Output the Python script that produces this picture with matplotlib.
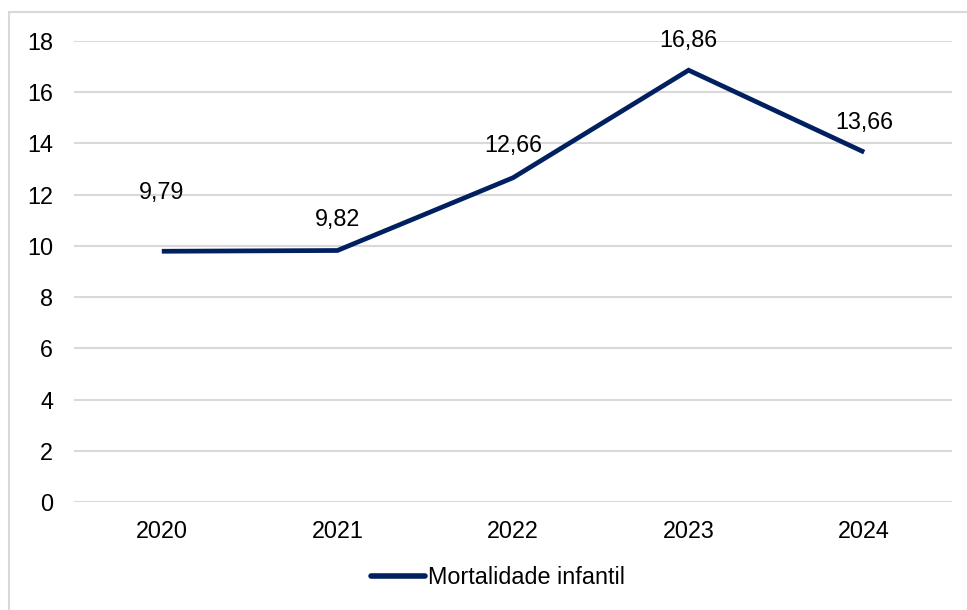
import matplotlib
matplotlib.use("Agg")
import matplotlib.pyplot as plt
from matplotlib.patches import Rectangle
from matplotlib.lines import Line2D

plt.rcParams['font.family'] = ['Liberation Sans', 'DejaVu Sans']

years = ["2020", "2021", "2022", "2023", "2024"]
values = [9.79, 9.82, 12.66, 16.86, 13.66]
value_labels = ["9,79", "9,82", "12,66", "16,86", "13,66"]
yticks = [0, 2, 4, 6, 8, 10, 12, 14, 16, 18]
series_name = "Mortalidade infantil"

W, H = 967, 610
fig = plt.figure(figsize=(W / 100, H / 100), dpi=100)
fig.patch.set_facecolor("white")

# outer border (only top/left visible in reference)
fig.patches.append(Rectangle((9 / W, -0.1), 1.2, (H - 12) / H + 0.1,
                             transform=fig.transFigure, fill=False,
                             edgecolor="#d9d9d9", linewidth=1.5))

FS = 16.8
ax = fig.add_axes([74 / W, 1 - 502 / H, (952 - 74) / W, (502 - 41) / H])
x = list(range(len(years)))
color = "#002060"
ax.plot(x, values, color=color, linewidth=3.4, solid_capstyle="butt",
        solid_joinstyle="miter")

offsets = [59, 31, 32, 30, 30]
for xi, v, lab, off in zip(x, values, value_labels, offsets):
    ax.annotate(lab, (xi, v), xytext=(0, off * 0.72), textcoords="offset points",
                ha="center", va="center", fontsize=FS, color="#000000")

ax.set_xlim(-0.5, 4.5)
ax.set_ylim(0, 18)
ax.set_yticks(yticks)
ax.set_yticklabels([str(t) for t in yticks])
ax.set_xticks(x)
ax.set_xticklabels(years)
ax.tick_params(axis="both", length=0, labelsize=FS, colors="#000000")
ax.tick_params(axis="y", pad=15)
ax.tick_params(axis="x", pad=13)
ax.grid(axis="y", color="#d9d9d9", linewidth=1.5)
ax.set_axisbelow(True)
for s in ax.spines.values():
    s.set_visible(False)

handle = Line2D([0], [0], color=color, linewidth=4, solid_capstyle="round")
fig.legend([handle], [series_name], loc="center", bbox_to_anchor=(498 / W, 1 - 578 / H),
           frameon=False, fontsize=FS, handlelength=2.3, handletextpad=0.15)

fig.savefig("out.png", dpi=100, facecolor="white")
